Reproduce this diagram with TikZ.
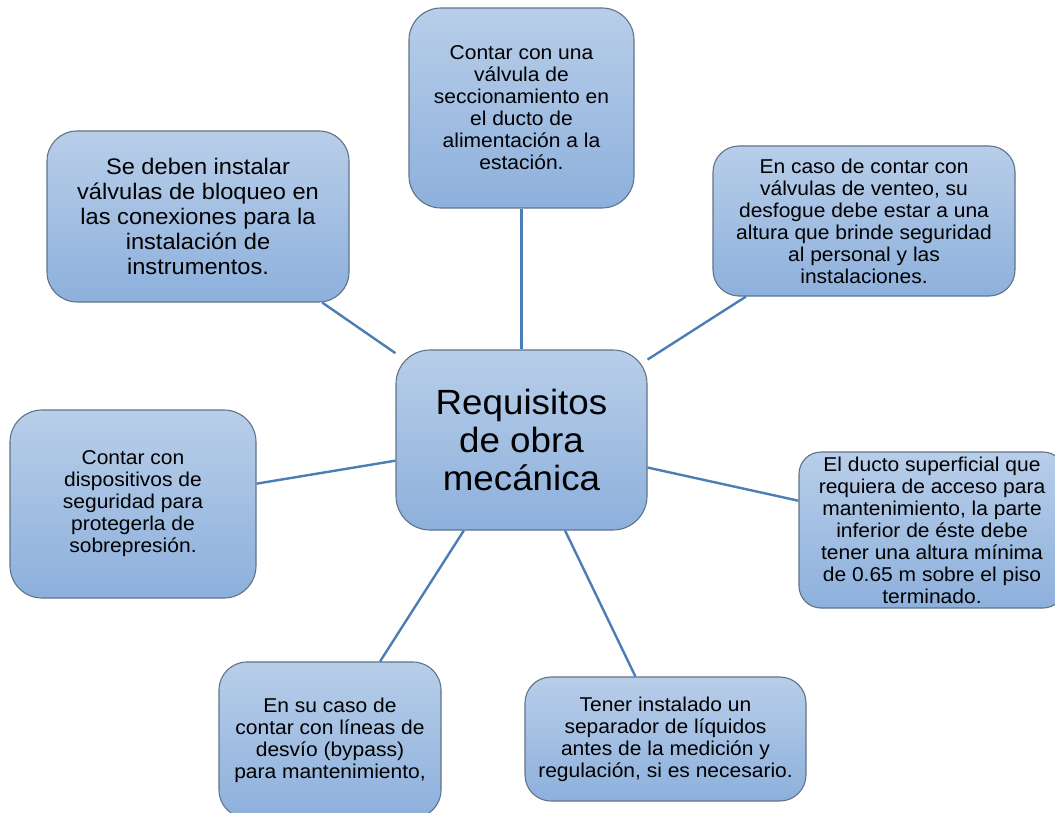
\documentclass[tikz,border=0pt]{standalone}
\usepackage{fontspec}
\setmainfont{Liberation Sans}[FakeStretch=1.05]
\begin{document}
\begin{tikzpicture}[x=1pt,y=-1pt,
  box/.style={draw=boxborder, line width=1.1pt, rounded corners=28pt,
    top color=boxtop, bottom color=boxbottom, align=center,
    inner sep=0pt, font=\fontsize{20}{22}\selectfont},
  link/.style={draw=linkblue, line width=2.4pt}]
\definecolor{boxtop}{HTML}{B8CEE9}
\definecolor{boxbottom}{HTML}{8DB0DC}
\definecolor{boxborder}{HTML}{607488}
\definecolor{linkblue}{HTML}{4A7EB5}
\useasboundingbox (0,0) rectangle (1055,813);
\clip (0,0) rectangle (1055,813);
\fill[white] (0,0) rectangle (1055,813);
\node[box, minimum width=251pt, minimum height=180pt, rounded corners=34pt,
  font=\fontsize{35}{38}\selectfont] (c) at (521.5,440)
  {Requisitos\\de obra\\mecánica};
\node[box, minimum width=225pt, minimum height=200pt, rounded corners=32pt] (t) at (521.5,108)
  {Contar con una\\válvula de\\seccionamiento en\\el ducto de\\alimentación a la\\estación.};
\node[box, minimum width=302pt, minimum height=171pt, rounded corners=30pt,
  font=\fontsize{22.5}{25}\selectfont] (tl) at (198,216.5)
  {Se deben instalar\\válvulas de bloqueo en\\las conexiones para la\\instalación de\\instrumentos.};
\node[box, minimum width=302pt, minimum height=150pt, rounded corners=26pt] (tr) at (864,221)
  {En caso de contar con\\válvulas de venteo, su\\desfogue debe estar a una\\altura que brinde seguridad\\al personal y las\\instalaciones.};
\node[box, minimum width=266pt, minimum height=156pt, rounded corners=22pt] (r) at (932,530)
  {El ducto superficial que\\requiera de acceso para\\mantenimiento, la parte\\inferior de éste debe\\tener una altura mínima\\de 0.65 m sobre el piso\\terminado.};
\node[box, minimum width=246pt, minimum height=188pt, rounded corners=32pt] (l) at (133,504)
  {Contar con\\dispositivos de\\seguridad para\\protegerla de\\sobrepresión.};
\node[box, minimum width=222pt, minimum height=156pt, rounded corners=28pt] (bl) at (330,740)
  {En su caso de\\contar con líneas de\\desvío (bypass)\\para mantenimiento,};
\node[box, minimum width=281pt, minimum height=124pt, rounded corners=26pt] (br) at (665.5,739)
  {Tener instalado un\\separador de líquidos\\antes de la medición y\\regulación, si es necesario.};
\draw[link] (t) -- (c);
\draw[link] (tl) -- (c);
\draw[link] (tr) -- (c);
\draw[link] (l) -- (c);
\draw[link] (r) -- (c);
\draw[link] (bl) -- (c);
\draw[link] (br) -- (c);
\end{tikzpicture}
\end{document}
